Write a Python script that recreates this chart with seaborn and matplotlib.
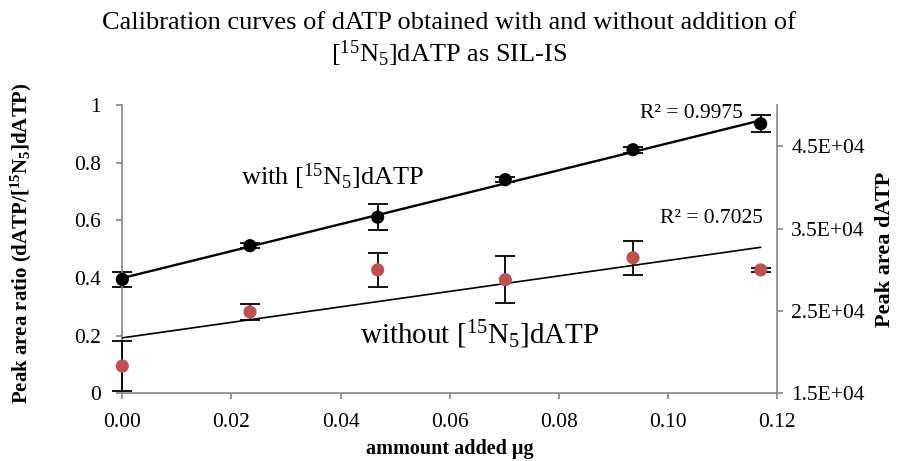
import numpy as np
import pandas as pd
import matplotlib
matplotlib.use("Agg")
import matplotlib.pyplot as plt
import seaborn as sns

# Amount of dATP added (µg)
amount = [0.0, 0.0234, 0.0468, 0.0702, 0.0936, 0.117]

# With SIL-IS: peak area ratio dATP/[15N5]dATP
ratio = [0.395, 0.512, 0.611, 0.741, 0.845, 0.935]
ratio_err = [0.025, 0.008, 0.044, 0.008, 0.010, 0.030]

# Without SIL-IS: raw peak area of dATP
area = [18300, 24870, 29980, 28790, 31450, 29980]
area_err = [3000, 950, 2030, 2870, 2070, 280]

left_ticks = [0, 0.2, 0.4, 0.6, 0.8, 1.0]
left_labels = ["0", "0.2", "0.4", "0.6", "0.8", "1"]
right_ticks = [15000, 25000, 35000, 45000]
x_ticks = [0.0, 0.02, 0.04, 0.06, 0.08, 0.10, 0.12]

r2_with = "R² = 0.9975"
r2_without = "R² = 0.7025"

sns.set_theme(style="white")
plt.rcParams["font.family"] = ["Liberation Serif", "DejaVu Serif"]
plt.rcParams["mathtext.fontset"] = "custom"
plt.rcParams["mathtext.rm"] = "Liberation Serif"
plt.rcParams["mathtext.it"] = "Liberation Serif:italic"
plt.rcParams["mathtext.bf"] = "Liberation Serif:bold"
plt.rcParams["text.color"] = "black"
plt.rcParams["axes.labelcolor"] = "black"

df_with = pd.DataFrame({"amount": amount, "value": ratio})
df_without = pd.DataFrame({"amount": amount, "value": area})

fig = plt.figure(figsize=(8.98, 4.61), dpi=100)
ax = fig.add_axes([0.1362, 0.1469, 0.7291, 0.6253])
ax2 = ax.twinx()

red = "#C0504D"
grey = "#868686"

# with SIL-IS (left axis)
ax.errorbar(amount, ratio, yerr=ratio_err, fmt="none", ecolor="black",
            elinewidth=1.3, capsize=7.5, capthick=1.3, zorder=2, clip_on=False)
sns.regplot(data=df_with, x="amount", y="value", ax=ax, scatter=False, ci=None,
            truncate=True, line_kws=dict(color="black", lw=1.7, zorder=3))
sns.scatterplot(data=df_with, x="amount", y="value", ax=ax, color="black",
                s=90, edgecolor="none", zorder=4, clip_on=False)

# without SIL-IS (right axis)
ax2.errorbar(amount, area, yerr=area_err, fmt="none", ecolor="black",
             elinewidth=1.3, capsize=7.5, capthick=1.3, zorder=2, clip_on=False)
sns.regplot(data=df_without, x="amount", y="value", ax=ax2, scatter=False, ci=None,
            truncate=True, line_kws=dict(color="black", lw=1.2, zorder=3))
sns.scatterplot(data=df_without, x="amount", y="value", ax=ax2, color=red,
                s=90, edgecolor="none", zorder=4, clip_on=False)

ax.set_xlim(0, 0.12)
ax.set_ylim(0, 1)
ax2.set_ylim(15000, 50000)

ax.set_xticks(x_ticks)
ax.set_xticklabels([f"{v:.2f}" for v in x_ticks])
ax.set_yticks(left_ticks)
ax.set_yticklabels(left_labels)
ax2.set_yticks(right_ticks)
ax2.set_yticklabels([f"{v:.1E}" for v in right_ticks])

for a in (ax, ax2):
    a.spines["top"].set_visible(False)
    for s in ("left", "right", "bottom"):
        a.spines[s].set_color(grey)
        a.spines[s].set_linewidth(1.2)
    a.tick_params(axis="both", which="major", direction="out", length=4.3,
                  width=1.2, color=grey, labelsize=15.5, labelcolor="black", pad=4)
ax.spines["right"].set_visible(False)
ax2.spines["left"].set_visible(False)
ax2.spines["bottom"].set_visible(False)
ax.tick_params(axis="x", pad=10)
ax.tick_params(axis="y", pad=11)
ax2.tick_params(axis="y", pad=6)
ax.tick_params(left=True, bottom=True)
ax2.tick_params(right=True)

ax.set_xlabel("ammount added µg", fontsize=14.5, fontweight="bold")
ax.xaxis.set_label_coords(0.5, -0.16)
ax.set_ylabel(r"Peak area ratio (dATP/[$\mathbf{^{15}N_5}$]dATP)",
              fontsize=15, fontweight="bold")
ax.yaxis.set_label_coords(-0.135, 0.52)
ax2.set_ylabel("Peak area dATP", fontsize=16, fontweight="bold", rotation=90)
ax2.yaxis.set_label_coords(1.150, 0.50)

fig.text(0.5, 0.950, "Calibration curves of dATP obtained with and without addition of",
         ha="center", va="center", fontsize=19)
fig.text(0.5, 0.883, r"[$^{15}$N$_5$]dATP as SIL-IS",
         ha="center", va="center", fontsize=19)

ax.text(0.1043, 0.972, r2_with, ha="center", va="center", fontsize=15.5)
ax.text(0.1079, 0.608, r2_without, ha="center", va="center", fontsize=15.5)
ax.text(0.0386, 0.751, r"with [$^{15}$N$_5$]dATP", ha="center", va="center", fontsize=19)
ax.text(0.0656, 0.202, r"without [$^{15}$N$_5$]dATP", ha="center", va="center", fontsize=21)

fig.savefig("out.png", dpi=100)
